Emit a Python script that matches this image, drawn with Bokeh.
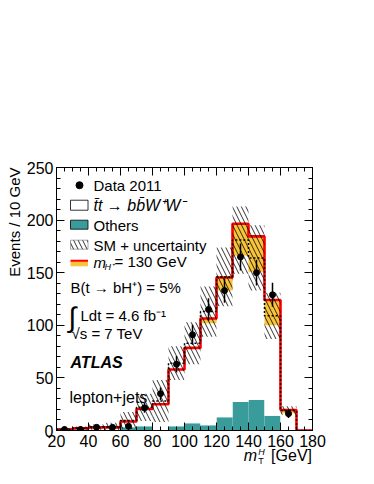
import math
from bokeh.plotting import figure
from bokeh.models import Range1d, LinearAxis, SingleIntervalTicker, Label, Title, Div
from bokeh.layouts import column
from bokeh.embed import file_html
from bokeh.resources import INLINE

# ---------------- data ----------------
bin_left = [20, 30, 40, 50, 60, 70, 80, 90, 100, 110, 120, 130, 140, 150, 160, 170]
bin_right = [30, 40, 50, 60, 70, 80, 90, 100, 110, 120, 130, 140, 150, 160, 170, 180]
step_edges = [20, 30, 40, 50, 60, 70, 80, 90, 100, 110, 120, 130, 140, 150, 160, 170, 180]

others = [0, 0, 0, 0, 3, 4, 0, 4, 7, 5, 12.5, 27, 29, 14, 0, 0]
ttbar_bh = [1, 2, 3, 3, 5.5, 16.5, 25, 54, 71, 97, 120.5, 139, 122, 86, 16.5, 0]
hplus = [0, 0, 0, 0, 0, 0, 0, 0, 0.5, 4.5, 12.5, 30.5, 33.5, 24, 3, 0]
sm_total = [1.2, 2.2, 3.3, 3.3, 9.5, 22, 28, 64, 83, 113, 146, 181, 164, 109, 19, 0]
sm_unc = [1, 1.5, 2.5, 4, 8, 13, 20, 16, 20, 24, 28, 32, 31, 22, 4, 0]

data_x = [25, 35, 45, 55, 65, 75, 85, 95, 105, 115, 125, 135, 145, 155, 165]
data_y = [1, 1, 3, 3, 4, 21.5, 35, 63, 91, 115, 133, 165, 150, 129, 16]
data_err = [1, 1, 1.7, 1.7, 2, 4.6, 5.9, 7.9, 9.5, 10.7, 11.5, 12.8, 12.2, 11.4, 4]

x_tick_interval = 20
y_tick_interval = 50

# ---------------- derived stacks ----------------
stack1 = others
stack2 = [a + b for a, b in zip(others, ttbar_bh)]
stack3 = [a + b for a, b in zip(stack2, hplus)]
unc_lo = [max(s - u, 0) for s, u in zip(sm_total, sm_unc)]
unc_hi = [s + u for s, u in zip(sm_total, sm_unc)]

FONT = "Liberation Sans"
TEAL = "#3a9c9a"
YELLOW = "#f7c43a"
RED = "#ff0000"
HATCH = dict(hatch_pattern="\\", hatch_color="black", hatch_alpha=0.8,
             hatch_scale=9, hatch_weight=1)

p = figure(frame_width=256, frame_height=263, output_backend="svg", toolbar_location=None,
           x_range=Range1d(20, 180), y_range=Range1d(0, 250))
p.min_border_left = 56
p.min_border_right = 58
p.min_border_top = 167
p.min_border_bottom = 0
p.xgrid.grid_line_color = None
p.ygrid.grid_line_color = None
p.outline_line_color = "black"
p.outline_line_width = 1
p.background_fill_color = "white"
p.border_fill_color = "white"

xt = SingleIntervalTicker(interval=x_tick_interval, num_minor_ticks=4)
yt = SingleIntervalTicker(interval=y_tick_interval, num_minor_ticks=5)


def style_axis(ax, labels=True, size="16px"):
    ax.major_tick_in = 8
    ax.major_tick_out = 0
    ax.minor_tick_in = 4
    ax.minor_tick_out = 0
    ax.axis_line_color = "black"
    ax.major_tick_line_color = "black"
    ax.minor_tick_line_color = "black"
    ax.major_label_text_font = FONT
    ax.major_label_text_font_size = size
    if labels:
        ax.major_label_text_color = "black"
    else:
        ax.major_label_text_color = None
        ax.major_label_standoff = 0


p.xaxis.ticker = xt
p.yaxis.ticker = yt
style_axis(p.xaxis[0], True, "16px")
style_axis(p.yaxis[0], True, "16px")
p.xaxis.major_label_standoff = 4
p.yaxis.major_label_standoff = 3

ax_r = LinearAxis(ticker=SingleIntervalTicker(interval=y_tick_interval, num_minor_ticks=5))
style_axis(ax_r, False, "10px")
p.add_layout(ax_r, "right")
ax_t = LinearAxis(ticker=SingleIntervalTicker(interval=x_tick_interval, num_minor_ticks=4))
style_axis(ax_t, False, "10px")
p.add_layout(ax_t, "above")

# y-axis title (top aligned, as in ROOT)
p.add_layout(Title(text="Events / 10 GeV", align="right", text_font=FONT,
                   text_font_size="15px", text_font_style="normal",
                   text_color="black", standoff=2), "left")

# ---------------- stacked histograms ----------------
p.quad(left=bin_left, right=bin_right, bottom=0, top=stack1,
       fill_color=TEAL, line_color=None)
p.quad(left=bin_left, right=bin_right, bottom=stack1, top=stack2,
       fill_color="white", line_color=None)
p.quad(left=bin_left, right=bin_right, bottom=stack2, top=stack3,
       fill_color=YELLOW, line_color=None)

p.step(x=step_edges, y=stack3 + [stack3[-1]], mode="after",
       line_color=RED, line_width=2.6)
p.step(x=step_edges, y=sm_total + [sm_total[-1]], mode="after",
       line_color="black", line_width=1.5, line_dash="2 2")

p.quad(left=bin_left, right=bin_right, bottom=unc_lo, top=unc_hi,
       fill_alpha=0, line_color=None, **HATCH)

p.segment(x0=data_x, y0=[y - e for y, e in zip(data_y, data_err)],
          x1=data_x, y1=[y + e for y, e in zip(data_y, data_err)],
          line_color="black", line_width=1.5)
p.scatter(x=data_x, y=data_y, size=6, color="black")


# ---------------- legend & labels ----------------
# reference page pixel -> data coordinates (frame: x 56..312, y 430.5..167.5)
def dx(px):
    return 20 + (px - 56) / 1.6


def dy(py):
    return (430.5 - py) / 1.053


def lab(text, px, py, size="15px", style="normal", align="left", angle=0):
    p.add_layout(Label(x=dx(px), y=dy(py), text=text, text_font=FONT,
                       text_font_size=size, text_font_style=style,
                       text_align=align, text_baseline="middle", angle=angle,
                       text_color="black"))


# symbols
p.scatter(x=[dx(79)], y=[dy(185)], size=7, color="black")
p.quad(left=[dx(70)], right=[dx(87.5)], bottom=[dy(210)], top=[dy(200)],
       fill_color="white", line_color="black", line_width=0.8)
p.quad(left=[dx(70)], right=[dx(87.5)], bottom=[dy(229)], top=[dy(220)],
       fill_color=TEAL, line_color="black", line_width=0.8)
p.quad(left=[dx(70)], right=[dx(87.5)], bottom=[dy(249)], top=[dy(240)],
       fill_color="white", line_color="#555555", line_width=0.5, **HATCH)
p.quad(left=[dx(70)], right=[dx(87.5)], bottom=[dy(266)], top=[dy(261)],
       fill_color=YELLOW, line_color=None)
p.segment(x0=[dx(70)], y0=[dy(260.5)], x1=[dx(87.5)], y1=[dy(260.5)],
          line_color=RED, line_width=2)

lab("Data 2011", 93, 185)
lab("t\u0304t \u2192 bb\u0304W\u207aW\u207b", 93, 205, size="16px", style="italic")
lab("Others", 93, 225)
lab("SM + uncertainty", 93, 245)
lab("m", 93, 262, style="italic")
lab("H\u207a", 104, 267, size="9px", style="italic")
lab("= 130 GeV", 114, 261)
lab("B(t \u2192 bH\u207a) = 5%", 70, 287)
lab("\u222b", 68, 317, size="28px")
lab("Ldt = 4.6 fb\u207b\u00b9", 80, 315)
lab("\u221as = 7 TeV", 71, 333)
lab("ATLAS", 70, 362, size="16px", style="bold italic")
lab("lepton+jets", 69, 397, size="16px")

# x-axis title below the figure, right aligned with the frame
xtitle_html = (
    '<div style="width:312px;text-align:right;font-family:\'Liberation Sans\';'
    'font-size:16px;line-height:18px;color:black;margin-top:-3px;white-space:nowrap;">'
    '<i>m</i><span style="display:inline-block;vertical-align:-3px;font-size:9px;'
    'line-height:9px;margin:0 2px 0 1px;text-align:left;"><i>H</i><br>T</span>'
    ' [GeV]</div>'
)
xtitle = Div(text=xtitle_html, width=330, height=26, margin=(0, 0, 0, 0))

layout = column(p, xtitle, spacing=0, margin=(0, 0, 0, 0))
open("out.html", "w").write(file_html(layout, INLINE))
